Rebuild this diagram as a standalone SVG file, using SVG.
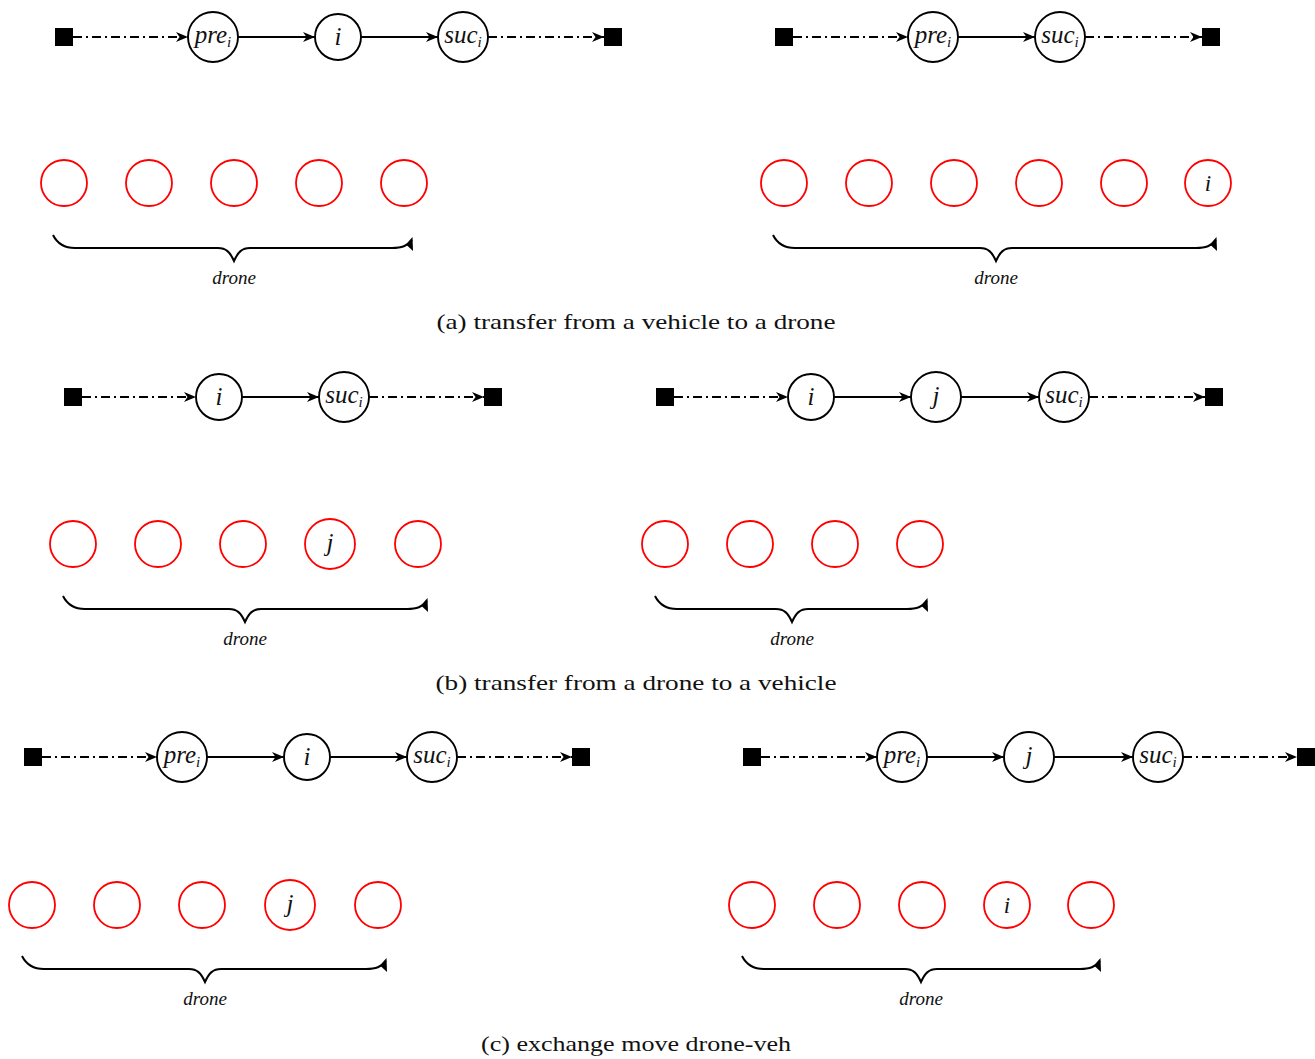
<svg xmlns="http://www.w3.org/2000/svg" width="1315" height="1059" viewBox="0 0 1315 1059">
<style>
.bg{fill:#fff}
.node circle{fill:#fff;stroke:#000;stroke-width:1.9}
.red circle{fill:#fff;stroke:#f00;stroke-width:1.8}
.sq{fill:#000}
.lbl{font-family:"Liberation Serif","Times New Roman",serif;font-style:italic;font-size:25px;fill:#111;text-anchor:middle}
.sub{font-size:15px}
.e{stroke:#000;stroke-width:2;fill:none;marker-end:url(#ah)}
.d{stroke-dasharray:9 4 2 4}
.brace{stroke:#000;stroke-width:2;fill:none}
.bt{fill:#000}
.dr{font-family:"Liberation Serif","Times New Roman",serif;font-style:italic;font-size:19px;fill:#111;text-anchor:middle}
.cap{font-family:"Liberation Serif","Times New Roman",serif;font-size:21px;fill:#111;text-anchor:middle}
</style>
<defs>
<marker id="ah" markerUnits="userSpaceOnUse" markerWidth="16" markerHeight="14" refX="12" refY="6" orient="auto">
<path d="M0,1 L12,6 L0,11 L3.5,6 Z" fill="#000"/>
</marker>
</defs>
<rect class="bg" width="1315" height="1059"/>

<!-- ===== (a) left ===== -->
<g id="a-left-start"><rect class="sq" x="55" y="28" width="18" height="18"/></g>
<g id="a-left-pre" class="node"><circle cx="213" cy="37" r="25"/><text class="lbl" x="213" y="43">pre<tspan class="sub" dy="4">i</tspan></text></g>
<g id="a-left-i" class="node"><circle cx="338" cy="37" r="23"/><text class="lbl" x="338" y="45">i</text></g>
<g id="a-left-suc" class="node"><circle cx="463" cy="37" r="25"/><text class="lbl" x="463" y="43">suc<tspan class="sub" dy="4">i</tspan></text></g>
<g id="a-left-end"><rect class="sq" x="604" y="28" width="18" height="18"/></g>
<g id="a-left-drones" class="red">
<circle cx="64" cy="183" r="23"/><circle cx="149" cy="183" r="23"/><circle cx="234" cy="183" r="23"/><circle cx="319" cy="183" r="23"/><circle cx="404" cy="183" r="23"/>
</g>

<!-- ===== (a) right ===== -->
<g id="a-right-start"><rect class="sq" x="775" y="28" width="18" height="18"/></g>
<g id="a-right-pre" class="node"><circle cx="933" cy="37" r="25"/><text class="lbl" x="933" y="43">pre<tspan class="sub" dy="4">i</tspan></text></g>
<g id="a-right-suc" class="node"><circle cx="1060" cy="37" r="25"/><text class="lbl" x="1060" y="43">suc<tspan class="sub" dy="4">i</tspan></text></g>
<g id="a-right-end"><rect class="sq" x="1202" y="28" width="18" height="18"/></g>
<g id="a-right-drones" class="red">
<circle cx="784" cy="183" r="23"/><circle cx="869" cy="183" r="23"/><circle cx="954" cy="183" r="23"/><circle cx="1039" cy="183" r="23"/><circle cx="1124" cy="183" r="23"/><circle cx="1208" cy="183" r="23"/>
<text class="lbl" x="1208" y="191" style="font-size:23px">i</text>
</g>

<!-- ===== (b) left ===== -->
<g id="b-left-start"><rect class="sq" x="64" y="388" width="18" height="18"/></g>
<g id="b-left-i" class="node"><circle cx="219" cy="397" r="23"/><text class="lbl" x="219" y="405">i</text></g>
<g id="b-left-suc" class="node"><circle cx="344" cy="397" r="25"/><text class="lbl" x="344" y="403">suc<tspan class="sub" dy="4">i</tspan></text></g>
<g id="b-left-end"><rect class="sq" x="484" y="388" width="18" height="18"/></g>
<g id="b-left-drones" class="red">
<circle cx="73" cy="544" r="23"/><circle cx="158" cy="544" r="23"/><circle cx="243" cy="544" r="23"/><circle cx="330" cy="544" r="25"/><circle cx="418" cy="544" r="23"/>
<text class="lbl" x="330" y="551">j</text>
</g>

<!-- ===== (b) right ===== -->
<g id="b-right-start"><rect class="sq" x="656" y="388" width="18" height="18"/></g>
<g id="b-right-i" class="node"><circle cx="811" cy="397" r="23"/><text class="lbl" x="811" y="405">i</text></g>
<g id="b-right-j" class="node"><circle cx="936" cy="397" r="25"/><text class="lbl" x="936" y="404">j</text></g>
<g id="b-right-suc" class="node"><circle cx="1064" cy="397" r="25"/><text class="lbl" x="1064" y="403">suc<tspan class="sub" dy="4">i</tspan></text></g>
<g id="b-right-end"><rect class="sq" x="1205" y="388" width="18" height="18"/></g>
<g id="b-right-drones" class="red">
<circle cx="665" cy="544" r="23"/><circle cx="750" cy="544" r="23"/><circle cx="835" cy="544" r="23"/><circle cx="920" cy="544" r="23"/>
</g>

<!-- ===== (c) left ===== -->
<g id="c-left-start"><rect class="sq" x="24" y="748" width="18" height="18"/></g>
<g id="c-left-pre" class="node"><circle cx="182" cy="757" r="25"/><text class="lbl" x="182" y="763">pre<tspan class="sub" dy="4">i</tspan></text></g>
<g id="c-left-i" class="node"><circle cx="307" cy="757" r="23"/><text class="lbl" x="307" y="765">i</text></g>
<g id="c-left-suc" class="node"><circle cx="432" cy="757" r="25"/><text class="lbl" x="432" y="763">suc<tspan class="sub" dy="4">i</tspan></text></g>
<g id="c-left-end"><rect class="sq" x="572" y="748" width="18" height="18"/></g>
<g id="c-left-drones" class="red">
<circle cx="32" cy="905" r="23"/><circle cx="117" cy="905" r="23"/><circle cx="202" cy="905" r="23"/><circle cx="290" cy="905" r="25"/><circle cx="378" cy="905" r="23"/>
<text class="lbl" x="290" y="912">j</text>
</g>

<!-- ===== (c) right ===== -->
<g id="c-right-start"><rect class="sq" x="743" y="748" width="18" height="18"/></g>
<g id="c-right-pre" class="node"><circle cx="902" cy="757" r="25"/><text class="lbl" x="902" y="763">pre<tspan class="sub" dy="4">i</tspan></text></g>
<g id="c-right-j" class="node"><circle cx="1029" cy="757" r="25"/><text class="lbl" x="1029" y="764">j</text></g>
<g id="c-right-suc" class="node"><circle cx="1158" cy="757" r="25"/><text class="lbl" x="1158" y="763">suc<tspan class="sub" dy="4">i</tspan></text></g>
<g id="c-right-end"><rect class="sq" x="1297" y="748" width="18" height="18"/></g>
<g id="c-right-drones" class="red">
<circle cx="752" cy="905" r="23"/><circle cx="837" cy="905" r="23"/><circle cx="922" cy="905" r="23"/><circle cx="1007" cy="905" r="23"/><circle cx="1091" cy="905" r="23"/>
<text class="lbl" x="1007" y="913" style="font-size:23px">i</text>
</g>

<!-- ===== connectors ===== -->
<g id="connectors">
<path class="e d" d="M73,37 H188"/>
<path class="e" d="M238,37 H315"/>
<path class="e" d="M361,37 H438"/>
<path class="e d" d="M488,37 H604"/>

<path class="e d" d="M793,37 H908"/>
<path class="e" d="M958,37 H1035"/>
<path class="e d" d="M1085,37 H1202"/>

<path class="e d" d="M82,397 H196"/>
<path class="e" d="M242,397 H319"/>
<path class="e d" d="M369,397 H484"/>

<path class="e d" d="M674,397 H788"/>
<path class="e" d="M834,397 H911"/>
<path class="e" d="M961,397 H1039"/>
<path class="e d" d="M1089,397 H1205"/>

<path class="e d" d="M42,757 H157"/>
<path class="e" d="M207,757 H284"/>
<path class="e" d="M330,757 H407"/>
<path class="e d" d="M457,757 H572"/>

<path class="e d" d="M761,757 H877"/>
<path class="e" d="M927,757 H1004"/>
<path class="e" d="M1054,757 H1133"/>
<path class="e d" d="M1183,757 H1297"/>
</g>

<!-- ===== braces ===== -->
<g id="brace-a-left">
<path class="brace" d="M53,235 C57,243 63,248 75,248 L218,248 C226,248 230,252 234,261 C238,252 242,248 250,248 L392,248 C402,248 407,246 412,240"/>
<path class="bt" d="M412.5,237 L413,251 L406,244.5 Z"/>
<text class="dr" x="234" y="284">drone</text>
</g>
<g id="brace-a-right">
<path class="brace" d="M773,235 C777,243 783,248 795,248 L980,248 C988,248 992,252 996,261 C1000,252 1004,248 1012,248 L1196,248 C1206,248 1211,246 1216,240"/>
<path class="bt" d="M1216.5,237 L1217,251 L1210,244.5 Z"/>
<text class="dr" x="996" y="284">drone</text>
</g>
<g id="brace-b-left">
<path class="brace" d="M63,596 C67,604 73,609 85,609 L229,609 C237,609 241,613 245,622 C249,613 253,609 261,609 L407,609 C417,609 422,607 427,601"/>
<path class="bt" d="M427.5,598 L428,612 L421,605.5 Z"/>
<text class="dr" x="245" y="645">drone</text>
</g>
<g id="brace-b-right">
<path class="brace" d="M655,596 C659,604 665,609 677,609 L776,609 C784,609 788,613 792,622 C796,613 800,609 808,609 L907,609 C917,609 922,607 927,601"/>
<path class="bt" d="M927.5,598 L928,612 L921,605.5 Z"/>
<text class="dr" x="792" y="645">drone</text>
</g>
<g id="brace-c-left">
<path class="brace" d="M22,956 C26,964 32,969 44,969 L189,969 C197,969 201,973 205,982 C209,973 213,969 221,969 L366,969 C376,969 381,967 386,961"/>
<path class="bt" d="M386.5,958 L387,972 L380,965.5 Z"/>
<text class="dr" x="205" y="1005">drone</text>
</g>
<g id="brace-c-right">
<path class="brace" d="M742,956 C746,964 752,969 764,969 L905,969 C913,969 917,973 921,982 C925,973 929,969 937,969 L1080,969 C1090,969 1095,967 1100,961"/>
<path class="bt" d="M1100.5,958 L1101,972 L1094,965.5 Z"/>
<text class="dr" x="921" y="1005">drone</text>
</g>

<!-- ===== captions ===== -->
<text class="cap" x="636" y="329" textLength="399" lengthAdjust="spacingAndGlyphs">(a) transfer from a vehicle to a drone</text>
<text class="cap" x="636" y="690" textLength="401" lengthAdjust="spacingAndGlyphs">(b) transfer from a drone to a vehicle</text>
<text class="cap" x="636" y="1051" textLength="310" lengthAdjust="spacingAndGlyphs">(c) exchange move drone-veh</text>
</svg>
